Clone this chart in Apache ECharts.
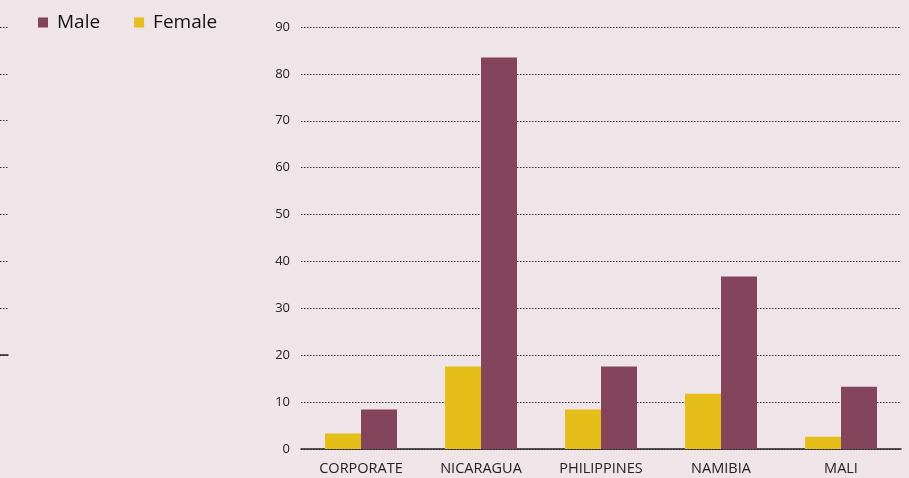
<!DOCTYPE html>
<html><head><meta charset="utf-8">
<script src="https://cdn.jsdelivr.net/npm/echarts@6/dist/echarts.min.js"></script>
<style>html,body{margin:0;padding:0;background:#EFE4E7;}#c{width:909px;height:478px;}</style>
</head><body><div id="c"></div>
<script>
const categories = ['CORPORATE','NICARAGUA','PHILIPPINES','NAMIBIA','MALI'];
const femaleValues = [3.3, 17.6, 8.4, 11.8, 2.6];
const maleValues = [8.4, 83.5, 17.6, 36.8, 13.3];
const yTicks = [0,10,20,30,40,50,60,70,80,90];

const chart = echarts.init(document.getElementById('c'));
chart.setOption({
  backgroundColor: '#EFE4E7',
  animation: false,
  legend: {
    data: ['Male','Female'], left: 33, top: 8, itemWidth: 10, itemHeight: 10, itemGap: 34,
    icon: 'rect',
    textStyle: { fontFamily: 'Open Sans', fontSize: 19, color: '#111', padding: [0, 0, 0, 4] }
  },
  grid: [
    { left: 301, right: 8, top: 27, bottom: 29 },
    { left: 0, width: 8, top: 27, bottom: 123 }
  ],
  xAxis: [
    { type: 'category', data: categories, gridIndex: 0,
      axisLine: { lineStyle: { color: '#222', width: 1.5 } },
      axisTick: { show: false },
      axisLabel: { fontFamily: 'Open Sans', fontSize: 14.5, color: '#222', margin: 12 } },
    { type: 'category', data: ['a'], gridIndex: 1, axisLine: { lineStyle: { color: '#222', width: 1.5 } },
      axisTick: { show: false }, axisLabel: { show: false } }
  ],
  yAxis: [
    { type: 'value', gridIndex: 0, min: 0, max: 90, interval: 10,
      axisLine: { show: false }, axisTick: { show: false },
      axisLabel: { fontFamily: 'Open Sans', fontSize: 13, color: '#222', margin: 11,
        formatter: v => yTicks.includes(v) ? String(v) : '' },
      splitLine: { lineStyle: { type: [1.5, 1.5], color: '#333', width: 1 } } },
    { type: 'value', gridIndex: 1, min: 0, max: 7, interval: 1,
      axisLine: { show: false }, axisTick: { show: false }, axisLabel: { show: false },
      splitLine: { lineStyle: { type: [1.5, 1.5], color: '#333', width: 1 } } }
  ],
  series: [
    { name: 'Female', type: 'bar', data: femaleValues, barWidth: 36, barGap: '0%',
      itemStyle: { color: '#E5BE1A' } },
    { name: 'Male', type: 'bar', data: maleValues, barWidth: 36, barGap: '0%',
      itemStyle: { color: '#84445C' } }
  ]
});
</script></body></html>
